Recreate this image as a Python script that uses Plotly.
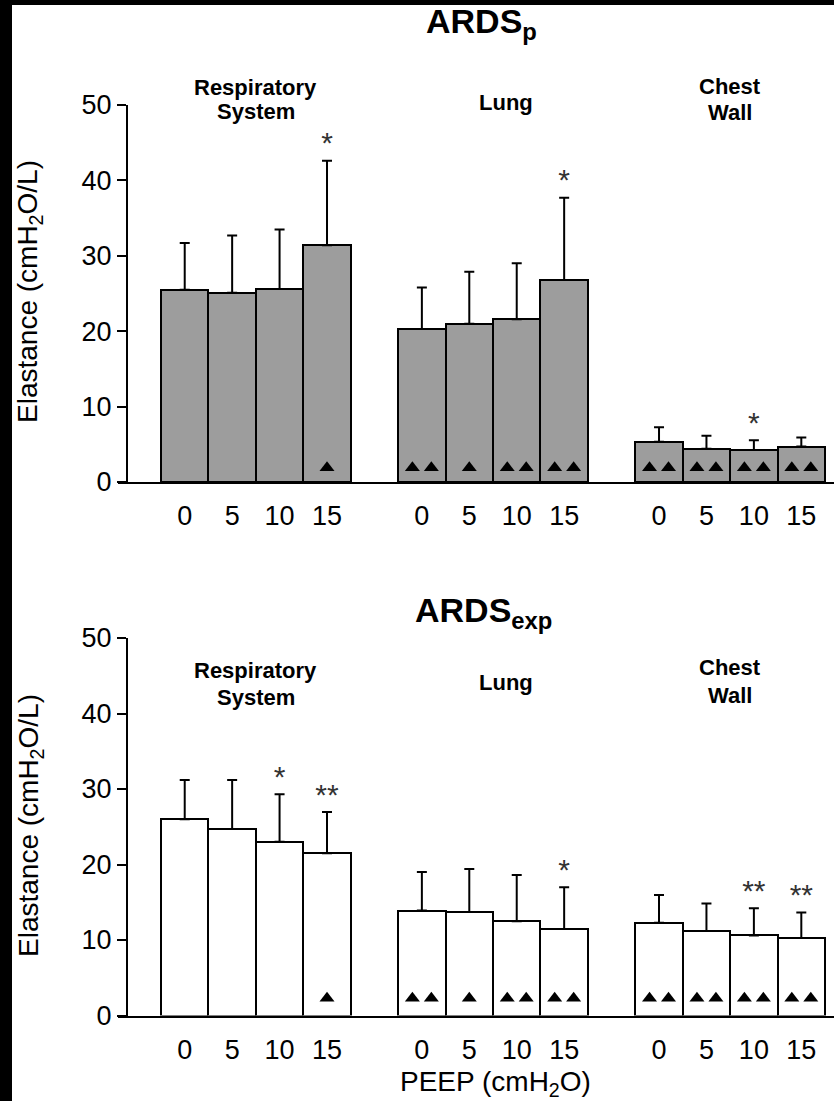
import plotly.graph_objects as go

# ---- data -------------------------------------------------------------
peep_labels = ["0", "5", "10", "15"]
segments = [["Respiratory", "System"], ["Lung"], ["Chest", "Wall"]]

# ARDSp : mean and SD of elastance (cmH2O/L)
p_mean = [25.5, 25.1, 25.6, 31.4, 20.3, 21.0, 21.6, 26.8, 5.35, 4.4, 4.25, 4.7]
p_sd = [6.2, 7.6, 7.9, 11.2, 5.5, 6.9, 7.4, 10.9, 1.9, 1.75, 1.3, 1.2]
p_stars = ["", "", "", "*", "", "", "", "*", "", "", "*", ""]
p_tri = [0, 0, 0, 1, 2, 1, 2, 2, 2, 2, 2, 2]

# ARDSexp : mean and SD of elastance (cmH2O/L)
exp_mean = [26.0, 24.7, 23.0, 21.5, 13.9, 13.7, 12.5, 11.45, 12.3, 11.2, 10.6, 10.25]
exp_sd = [5.2, 6.5, 6.3, 5.45, 5.1, 5.7, 6.1, 5.55, 3.65, 3.65, 3.6, 3.4]
exp_stars = ["", "", "*", "**", "", "", "", "*", "", "", "**", "**"]
exp_tri = [0, 0, 0, 1, 2, 1, 2, 2, 2, 2, 2, 2]

# ---- layout helpers ---------------------------------------------------
W, H = 834, 1101
FONT = "Liberation Sans, Arial, Helvetica, sans-serif"

# each segment occupies 4 slots, with one empty slot between segments
slots = [g * 5 + i for g in range(3) for i in range(4)]


def fx(px):
    return px / W


def fy(px):
    return 1 - px / H


# horizontal mapping: first bar left edge at 161 px, slot width ~47.43 px
SLOT = 47.43
X0 = 161


def slot_of(px):
    return (px - X0) / SLOT - 0.5


xrange_ = [slot_of(118), slot_of(834)]

fig = go.Figure()


def add_panel(mean, sd, stars, tri, fill, xa, ya, tri_y):
    fig.add_trace(go.Bar(
        x=slots, y=mean, width=1.0,
        marker=dict(color=fill, line=dict(color="black", width=2)),
        error_y=dict(type="data", symmetric=False, array=sd,
                     arrayminus=[0] * len(sd), color="black",
                     thickness=2, width=5),
        xaxis=xa, yaxis=ya, showlegend=False, hoverinfo="skip",
    ))
    # significance markers above the error bars
    sx, sy, st = [], [], []
    for s, m, d, t in zip(slots, mean, sd, stars):
        if t:
            sx.append(s)
            sy.append(m + d)
            st.append(t)
    fig.add_trace(go.Scatter(
        x=sx, y=sy, text=st, mode="text", textposition="top center",
        textfont=dict(family=FONT, size=30, color="#333333"),
        xaxis=xa, yaxis=ya, showlegend=False, hoverinfo="skip",
        cliponaxis=False,
    ))
    # triangle markers inside the bars
    tx, ty = [], []
    for s, n in zip(slots, tri):
        if n == 1:
            tx.append(s)
            ty.append(tri_y)
        elif n == 2:
            tx.extend([s - 0.2, s + 0.2])
            ty.extend([tri_y, tri_y])
    fig.add_trace(go.Scatter(
        x=tx, y=ty, mode="markers",
        marker=dict(symbol="triangle-up", size=13, color="black"),
        xaxis=xa, yaxis=ya, showlegend=False, hoverinfo="skip",
        cliponaxis=False,
    ))


add_panel(p_mean, p_sd, p_stars, p_tri, "#9d9d9d", "x", "y", 1.9)
add_panel(exp_mean, exp_sd, exp_stars, exp_tri, "white", "x2", "y2", 2.3)

xaxis_common = dict(
    range=xrange_, domain=[fx(118), 1.0], automargin=False,
    showline=True, linecolor="black", linewidth=2,
    showgrid=False, zeroline=False, ticks="",
    tickmode="array", tickvals=slots, ticktext=peep_labels * 3,
    tickfont=dict(family=FONT, size=27, color="black"),
    ticklabelstandoff=9,
)
yaxis_common = dict(
    range=[0, 50], anchor="free", position=fx(127), automargin=False,
    showline=True, linecolor="black", linewidth=2,
    showgrid=False, zeroline=False,
    ticks="outside", ticklen=9, tickwidth=2, tickcolor="black",
    tickvals=[0, 10, 20, 30, 40, 50],
    tickfont=dict(family=FONT, size=27, color="black"),
)

fig.update_layout(
    width=W, height=H,
    margin=dict(l=0, r=0, t=0, b=0, autoexpand=False),
    paper_bgcolor="white", plot_bgcolor="white",
    bargap=0,
    xaxis=dict(xaxis_common, anchor="y"),
    yaxis=dict(yaxis_common, domain=[fy(482), fy(105)]),
    xaxis2=dict(xaxis_common, anchor="y2"),
    yaxis2=dict(yaxis_common, domain=[fy(1015.5), fy(638)]),
)

annotations = []
# panel titles
annotations.append(dict(text="<b>ARDS<sub>p</sub></b>", x=fx(482), y=fy(24),
                        font=dict(size=34)))
annotations.append(dict(text="<b>ARDS<sub>exp</sub></b>", x=fx(484), y=fy(612),
                        font=dict(size=34)))

# segment labels, one annotation per text line
seg_px = [256, 506, 730]
top_lines_y = [[88, 111], [102], [86, 113]]
bot_lines_y = [[670, 697], [682], [667, 695]]
for lines, px, ty, by in zip(segments, seg_px, top_lines_y, bot_lines_y):
    for line, y1, y2 in zip(lines, ty, by):
        annotations.append(dict(text=f"<b>{line}</b>", x=fx(px), y=fy(y1),
                                font=dict(size=22)))
        annotations.append(dict(text=f"<b>{line}</b>", x=fx(px), y=fy(y2),
                                font=dict(size=22)))

# axis titles
for cy in (292, 826):
    annotations.append(dict(text="Elastance (cmH<sub>2</sub>O/L)", x=fx(30),
                            y=fy(cy), textangle=-90, font=dict(size=28)))
annotations.append(dict(text="PEEP (cmH<sub>2</sub>O)", x=fx(495), y=fy(1083),
                        font=dict(size=28)))

for a in annotations:
    a.update(xref="paper", yref="paper", showarrow=False,
             xanchor="center", yanchor="middle")
    a["font"].update(family=FONT, color="black")
fig.update_layout(annotations=annotations)

# dark border strips along the left and top edges
fig.update_layout(shapes=[
    dict(type="rect", xref="paper", yref="paper", x0=0, x1=fx(12), y0=0, y1=1,
         fillcolor="black", line=dict(width=0), layer="above"),
    dict(type="rect", xref="paper", yref="paper", x0=0, x1=1, y0=fy(5), y1=1,
         fillcolor="black", line=dict(width=0), layer="above"),
])

fig.write_html("out.html")
